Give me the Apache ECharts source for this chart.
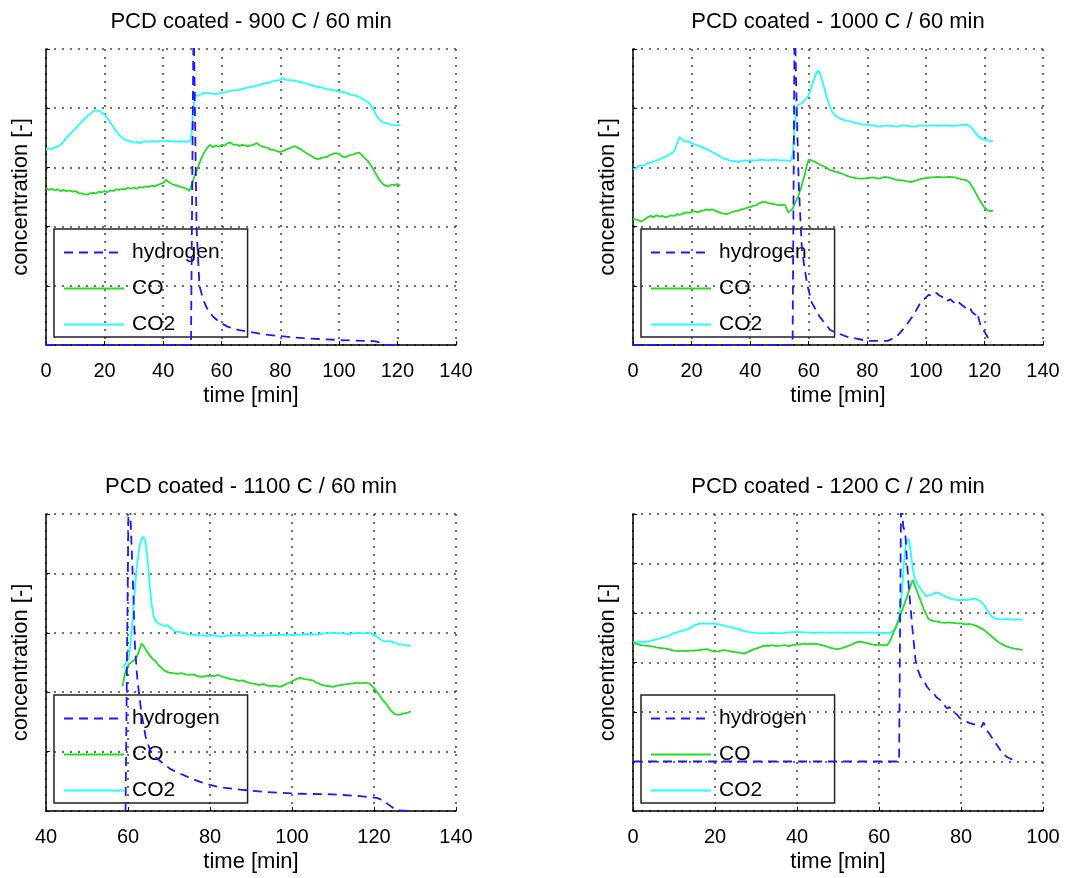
<!DOCTYPE html>
<html>
<head>
<meta charset="utf-8">
<script src="https://cdn.jsdelivr.net/npm/echarts@6/dist/echarts.min.js"></script>
<style>
html,body{margin:0;padding:0;background:#fff;}
#chart{width:1066px;height:878px;}
</style>
</head>
<body>
<div id="chart"></div>
<script>
// ---- titles / labels ----
const titles = ['PCD coated - 900 C / 60 min', 'PCD coated - 1000 C / 60 min', 'PCD coated - 1100 C / 60 min', 'PCD coated - 1200 C / 20 min'];
const seriesNames = ['hydrogen', 'CO', 'CO2'];
const xLabel = 'time [min]';
const yLabel = 'concentration [-]';
// axis ranges [xmin, xmax, xstep]
const xRanges = [[0, 140, 20], [0, 140, 20], [40, 140, 20], [0, 100, 20]];
const yMax = [5, 5, 5, 6];

// ---- 900 C ----
const h2_900 = [[0,0],[49.5,0],[50.4,5.6],[51.4,2.0],[52.4,1.0],[53.7,0.76],[55,0.62],[56,0.54],[57.5,0.46],[59.4,0.38],[62,0.31],[66,0.25],[72,0.20],[76,0.17],[82,0.14],[88,0.115],[94,0.10],[100,0.085],[105,0.075],[109.5,0.07],[112,0.065],[113.5,0.05],[115,0.02],[116,0],[120,0]];
const co_900 = [[0,2.65],[1,2.62],[2,2.64],[3,2.61],[4,2.63],[5,2.60],[6,2.62],[7,2.60],[8,2.61],[9,2.59],[10,2.60],[11,2.57],[12,2.56],[13,2.55],[14,2.54],[15,2.56],[16,2.57],[17,2.56],[18,2.59],[19,2.58],[20,2.60],[21,2.58],[22,2.61],[23,2.60],[24,2.63],[25,2.62],[26,2.64],[27,2.63],[28,2.66],[29,2.64],[30,2.66],[31,2.64],[32,2.67],[33,2.66],[34,2.68],[35,2.67],[36,2.69],[37,2.68],[38,2.70],[39,2.72],[40,2.74],[41,2.79],[42,2.75],[43,2.72],[44,2.70],[45,2.69],[46,2.67],[47,2.66],[48,2.64],[49,2.60],[49.7,2.70],[50.5,2.82],[51.3,2.93],[52,3.02],[53,3.15],[54,3.25],[55,3.33],[56,3.38],[57,3.34],[58,3.37],[59,3.35],[60,3.38],[61,3.37],[62,3.41],[63,3.42],[64,3.38],[65,3.39],[66,3.36],[67,3.38],[68,3.37],[69,3.36],[70,3.37],[71,3.39],[72,3.41],[73,3.37],[74,3.35],[75,3.34],[76,3.32],[77,3.30],[78,3.29],[79,3.27],[80,3.26],[81,3.28],[82,3.30],[83,3.32],[84,3.34],[85,3.36],[86,3.33],[87,3.31],[88,3.27],[89,3.24],[90,3.21],[91,3.18],[92,3.15],[93,3.14],[94,3.16],[95,3.17],[96,3.18],[97,3.21],[98,3.23],[99,3.24],[100,3.23],[101,3.19],[102,3.17],[103,3.19],[104,3.21],[105,3.22],[106,3.24],[107,3.25],[108,3.20],[109,3.15],[110,3.10],[111,3.03],[112,2.95],[113,2.86],[114,2.78],[115,2.72],[116,2.69],[117,2.68],[118,2.71],[119,2.70],[120,2.72],[121,2.69]];
const co2_900 = [[0,3.30],[1,3.32],[2,3.31],[3,3.34],[4,3.35],[5,3.38],[6,3.44],[7,3.50],[8,3.55],[9,3.60],[10,3.65],[11,3.71],[12,3.76],[13,3.81],[14,3.86],[15,3.90],[16,3.94],[17,3.97],[18,3.95],[19,3.93],[20,3.89],[21,3.83],[22,3.76],[23,3.68],[24,3.61],[25,3.55],[26,3.50],[27,3.47],[28,3.45],[29,3.44],[30,3.42],[31,3.43],[32,3.41],[33,3.43],[34,3.44],[35,3.43],[36,3.45],[37,3.44],[38,3.43],[39,3.45],[40,3.44],[42,3.45],[44,3.43],[46,3.44],[48,3.43],[49.2,3.44],[49.7,3.55],[50.2,3.95],[50.9,4.22],[52,4.21],[54,4.26],[56,4.25],[58,4.24],[60,4.26],[62,4.28],[64,4.30],[66,4.31],[68,4.34],[70,4.36],[72,4.38],[74,4.41],[76,4.43],[78,4.46],[80,4.48],[81,4.51],[82,4.48],[84,4.47],[86,4.45],[88,4.43],[90,4.40],[92,4.37],[94,4.35],[96,4.32],[98,4.31],[100,4.28],[102,4.27],[104,4.23],[106,4.21],[108,4.16],[110,4.10],[111,4.05],[112,3.96],[113,3.86],[114,3.80],[115,3.76],[116,3.75],[118,3.72],[120,3.71],[121,3.72]];

// ---- 1000 C ----
const h2_1000 = [[0,0],[54.5,0],[55.2,5.6],[56,3.8],[56.6,2.7],[57.7,1.6],[59.4,1.04],[61,0.72],[63.7,0.48],[67.4,0.25],[73,0.14],[80,0.07],[87,0.07],[90,0.14],[93,0.31],[95.8,0.51],[98,0.70],[101,0.85],[102,0.82],[103.6,0.88],[104.5,0.84],[106,0.80],[107,0.74],[108.4,0.77],[109.5,0.72],[110.6,0.76],[111.7,0.70],[112.9,0.65],[114,0.62],[115,0.64],[115.7,0.56],[116.9,0.51],[117.5,0.55],[118.6,0.34],[120.3,0.20],[121.4,0.11]];
const co_1000 = [[0,2.14],[1,2.12],[2,2.10],[3,2.09],[4,2.12],[5,2.16],[6,2.18],[7,2.16],[8,2.19],[9,2.17],[10,2.18],[11,2.16],[12,2.17],[13,2.19],[14,2.18],[15,2.21],[16,2.20],[17,2.22],[18,2.24],[19,2.23],[20,2.25],[21,2.26],[22,2.24],[23,2.26],[24,2.27],[25,2.29],[26,2.28],[27,2.29],[28,2.27],[29,2.25],[30,2.23],[31,2.22],[32,2.21],[33,2.23],[34,2.25],[35,2.26],[36,2.27],[37,2.29],[38,2.30],[39,2.32],[40,2.33],[41,2.35],[42,2.36],[43,2.39],[44,2.41],[45,2.42],[46,2.40],[47,2.39],[48,2.38],[49,2.37],[50,2.36],[51,2.37],[52,2.36],[53,2.24],[53.5,2.21],[54.5,2.30],[55.5,2.42],[56.5,2.52],[57.5,2.68],[58.5,2.85],[59.3,3.02],[60,3.13],[61,3.12],[62,3.10],[63,3.07],[64,3.04],[65,3.02],[66,3.00],[67,2.96],[68,2.95],[69,2.93],[70,2.92],[71,2.90],[72,2.88],[73,2.86],[74,2.84],[75,2.83],[76,2.82],[78,2.81],[80,2.82],[82,2.83],[84,2.81],[86,2.84],[88,2.82],[90,2.79],[92,2.78],[94,2.76],[95,2.75],[96,2.77],[98,2.80],[100,2.82],[102,2.83],[104,2.84],[106,2.83],[108,2.84],[110,2.83],[112,2.80],[114,2.78],[115,2.74],[116,2.66],[117,2.57],[118,2.48],[119,2.40],[120,2.32],[121,2.28],[122,2.26],[123,2.27]];
const co2_1000 = [[0,2.96],[1,2.99],[2,3.02],[3,3.03],[4,3.04],[5,3.07],[6,3.08],[7,3.10],[8,3.12],[9,3.13],[10,3.16],[11,3.18],[12,3.20],[13,3.23],[14,3.27],[15,3.40],[16,3.51],[17,3.46],[18,3.43],[19,3.44],[20,3.41],[21,3.39],[22,3.37],[23,3.36],[24,3.33],[25,3.31],[26,3.29],[27,3.26],[28,3.24],[29,3.20],[30,3.18],[31,3.15],[32,3.14],[33,3.12],[34,3.11],[35,3.10],[36,3.09],[37,3.11],[38,3.12],[39,3.11],[40,3.12],[42,3.12],[44,3.13],[46,3.12],[48,3.13],[50,3.12],[52,3.12],[54,3.11],[54.6,3.25],[55.2,3.70],[55.8,4.02],[56.5,4.06],[57.5,4.08],[58.5,4.12],[59.5,4.18],[60.5,4.28],[61.5,4.45],[62.5,4.58],[63.2,4.64],[64,4.57],[65,4.40],[66,4.22],[67,4.06],[68,3.94],[69,3.88],[70,3.84],[71,3.82],[72,3.80],[73,3.79],[74,3.78],[75,3.76],[76,3.75],[78,3.73],[80,3.72],[82,3.71],[84,3.69],[86,3.71],[88,3.70],[90,3.69],[92,3.71],[94,3.70],[96,3.69],[98,3.71],[100,3.70],[102,3.71],[104,3.70],[106,3.71],[108,3.70],[110,3.70],[112,3.72],[114,3.72],[115,3.70],[116,3.64],[117,3.58],[118,3.52],[119,3.49],[120,3.47],[121,3.46],[122,3.44],[123,3.45]];

// ---- 1100 C ----
const h2_1100 = [[59.4,0],[60.1,5.0],[60.3,5.6],[60.7,4.79],[61.3,3.67],[61.7,2.77],[62.3,2.2],[63.3,1.64],[64.3,1.25],[65.4,1.02],[66.8,0.90],[68.6,0.80],[70.5,0.70],[72.7,0.63],[75,0.56],[77.6,0.49],[80,0.44],[82.4,0.40],[87.3,0.36],[93.8,0.32],[102,0.29],[110,0.28],[116.6,0.25],[120.7,0.22],[122.3,0.18],[123.3,0.12],[124.3,0.07],[125.5,0.01],[129,0]];
const co_1100 = [[58.7,2.10],[59.2,2.30],[59.7,2.42],[60.3,2.48],[61,2.51],[61.7,2.55],[62.3,2.62],[62.8,2.72],[63.3,2.82],[63.8,2.78],[64.5,2.70],[65.3,2.62],[66,2.56],[66.7,2.52],[67.5,2.45],[68.3,2.40],[69,2.36],[70,2.33],[71,2.32],[72,2.31],[73,2.32],[74,2.30],[75,2.29],[76,2.30],[77,2.27],[78,2.26],[79,2.27],[80,2.28],[81,2.27],[82,2.29],[83,2.26],[84,2.24],[85,2.22],[86,2.21],[87,2.19],[88,2.20],[89,2.17],[90,2.15],[91,2.14],[92,2.12],[93,2.14],[94,2.11],[95,2.10],[96,2.11],[97,2.09],[98,2.12],[99,2.15],[100,2.18],[101,2.22],[102,2.24],[103,2.22],[104,2.21],[105,2.20],[106,2.16],[107,2.13],[108,2.11],[109,2.10],[110,2.09],[111,2.11],[112,2.12],[113,2.13],[114,2.14],[115,2.15],[116,2.16],[117,2.15],[118,2.16],[119,2.14],[120,2.07],[121,1.98],[122,1.88],[123,1.80],[124,1.70],[125,1.63],[126,1.62],[127,1.64],[128,1.65],[129,1.68]];
const co2_1100 = [[58.7,2.40],[59.3,2.47],[59.8,2.52],[60.3,2.62],[60.8,2.95],[61.3,3.40],[61.8,3.85],[62.3,4.20],[62.8,4.45],[63.3,4.58],[63.7,4.62],[64.2,4.55],[64.6,4.35],[65,4.06],[65.4,3.72],[65.8,3.45],[66.3,3.27],[67,3.18],[68,3.14],[69,3.11],[69.7,3.13],[70.5,3.07],[71.5,3.02],[73,3.01],[75,2.97],[77,2.96],[79,2.95],[81,2.96],[82.5,2.93],[84,2.95],[86,2.96],[88,2.95],[90,2.96],[92,2.95],[94,2.96],[96,2.96],[98,2.97],[100,2.96],[102,2.97],[104,2.98],[106,2.97],[108,2.99],[110,3.00],[112,2.99],[114,2.98],[116,3.00],[118,2.99],[119,3.00],[120,2.97],[121,2.92],[122,2.87],[123,2.85],[124,2.86],[125,2.83],[126,2.81],[127,2.80],[128,2.79],[129,2.78]];

// ---- 1200 C ----
const h2_1200 = [[0,1],[64.9,1],[65.4,6.5],[65.9,5.75],[66.4,5.62],[66.8,5.07],[67.2,4.60],[67.6,4.20],[68.3,3.55],[68.9,3.05],[69.5,2.85],[70.1,2.71],[71,2.62],[71.7,2.51],[72.5,2.43],[73.3,2.38],[74,2.30],[75,2.24],[75.8,2.15],[76.6,2.07],[77.2,2.10],[78.2,2.00],[79,1.95],[79.8,1.87],[81,1.82],[82.3,1.77],[83.3,1.75],[84.3,1.73],[85,1.70],[85.5,1.79],[86.3,1.63],[87,1.55],[88,1.43],[88.8,1.33],[89.6,1.23],[90.4,1.15],[91.2,1.09],[92.2,1.05],[93.3,1.03]];
const co_1200 = [[0,3.40],[1,3.37],[2,3.35],[3,3.34],[4,3.33],[5,3.32],[6,3.30],[7,3.29],[8,3.28],[9,3.26],[10,3.24],[11,3.23],[12,3.24],[13,3.23],[14,3.24],[15,3.24],[16,3.25],[17,3.26],[18,3.27],[19,3.24],[20,3.22],[21,3.23],[22,3.25],[23,3.24],[24,3.22],[25,3.21],[26,3.20],[27,3.18],[28,3.21],[29,3.25],[30,3.28],[31,3.31],[32,3.34],[33,3.33],[34,3.35],[35,3.33],[36,3.34],[37,3.35],[38,3.33],[39,3.35],[40,3.36],[41,3.37],[42,3.38],[43,3.37],[44,3.38],[45,3.37],[46,3.35],[47,3.33],[48,3.30],[49,3.28],[50,3.27],[51,3.29],[52,3.32],[53,3.35],[54,3.39],[55,3.42],[56,3.41],[57,3.39],[58,3.37],[59,3.35],[60,3.36],[61,3.35],[62,3.35],[62.8,3.45],[63.6,3.62],[64.5,3.80],[65.5,4.02],[66.5,4.25],[67.5,4.50],[68.2,4.66],[69,4.50],[70,4.28],[71,4.06],[72,3.89],[73,3.84],[74,3.83],[75,3.81],[76,3.80],[77,3.81],[78,3.80],[79,3.79],[80,3.79],[81,3.77],[82,3.78],[83,3.76],[84,3.73],[85,3.69],[86,3.63],[87,3.56],[88,3.49],[89,3.42],[90,3.37],[91,3.33],[92,3.30],[93,3.28],[94,3.27],[95,3.25]];
const co2_1200 = [[0,3.40],[1,3.41],[2,3.42],[3,3.41],[4,3.43],[5,3.45],[6,3.47],[7,3.50],[8,3.52],[9,3.55],[10,3.59],[11,3.62],[12,3.64],[13,3.66],[14,3.70],[15,3.75],[16,3.78],[17,3.79],[18,3.78],[19,3.79],[20,3.78],[21,3.77],[22,3.75],[23,3.73],[24,3.71],[25,3.69],[26,3.67],[27,3.64],[28,3.62],[29,3.61],[30,3.60],[32,3.59],[34,3.60],[36,3.59],[38,3.61],[40,3.62],[42,3.61],[44,3.60],[46,3.61],[48,3.60],[50,3.61],[52,3.60],[54,3.61],[56,3.60],[58,3.61],[60,3.60],[62,3.60],[63,3.61],[64,3.68],[64.8,3.85],[65.5,4.30],[66,4.95],[66.5,5.35],[67,5.50],[67.4,5.45],[67.8,5.20],[68.3,4.85],[68.8,4.68],[69.5,4.57],[70.5,4.45],[71.5,4.34],[72.5,4.36],[73.5,4.40],[74.5,4.41],[75.5,4.36],[76.5,4.32],[77.5,4.29],[78.5,4.27],[79.5,4.26],[80.5,4.27],[81.5,4.26],[82.5,4.28],[83.5,4.29],[84.5,4.25],[85.5,4.18],[86.5,4.04],[87.5,3.93],[88.5,3.88],[90,3.87],[91,3.88],[92,3.87],[93,3.86],[94,3.87],[95,3.86]];

const panelData = [[h2_900, co_900, co2_900], [h2_1000, co_1000, co2_1000], [h2_1100, co_1100, co2_1100], [h2_1200, co_1200, co2_1200]];

// ---- layout ----
const FONT = '"Liberation Sans", Arial, Helvetica, sans-serif';
const grids = [
  {left: 46, top: 49, width: 410, height: 296},
  {left: 633, top: 49, width: 410, height: 296},
  {left: 46, top: 514, width: 410, height: 297},
  {left: 633, top: 514, width: 410, height: 297}
];
const colors = ['#1a1aff', '#22dd22', '#22ffff'];

const option = {
  animation: false,
  backgroundColor: '#fff',
  title: [], grid: [], xAxis: [], yAxis: [], legend: [], series: []
};

const gridLine = {show: true, lineStyle: {color: '#444', width: 1.5, type: [2, 6]}};

grids.forEach((g, i) => {
  option.grid.push({left: g.left, top: g.top, width: g.width, height: g.height, containLabel: false});
  option.title.push({
    text: titles[i], left: g.left + g.width / 2, top: g.top - 38, textAlign: 'center', padding: 0,
    textStyle: {fontFamily: FONT, fontSize: 22, fontWeight: 'normal', color: '#000'}
  });
  const xr = xRanges[i];
  option.xAxis.push({
    type: 'value', gridIndex: i, min: xr[0], max: xr[1], interval: xr[2],
    name: xLabel, nameLocation: 'middle', nameGap: 40,
    nameTextStyle: {fontFamily: FONT, fontSize: 22, color: '#000'},
    axisLine: {show: true, onZero: false, lineStyle: {color: '#000', width: 1.5}},
    axisTick: {show: true, inside: true, length: 4, lineStyle: {color: '#000'}},
    axisLabel: {fontFamily: FONT, fontSize: 20, color: '#000', margin: 16},
    splitLine: gridLine
  });
  option.yAxis.push({
    type: 'value', gridIndex: i, min: 0, max: yMax[i], interval: 1,
    name: yLabel, nameLocation: 'middle', nameGap: 14, nameRotate: 90,
    nameTextStyle: {fontFamily: FONT, fontSize: 22, color: '#000'},
    axisLine: {show: true, onZero: false, lineStyle: {color: '#000', width: 1.5}},
    axisTick: {show: true, inside: true, length: 4, lineStyle: {color: '#000'}},
    axisLabel: {show: false},
    splitLine: gridLine
  });
  option.legend.push({
    orient: 'vertical', left: g.left + 8, top: g.top + g.height - 116,
    data: seriesNames.slice(),
    itemWidth: 60, itemHeight: 14, itemGap: 15,
    padding: [13, 28, 2, 9],
    borderColor: '#222', borderWidth: 1.5, backgroundColor: 'transparent',
    selectedMode: false,
    itemStyle: {color: 'transparent', borderWidth: 0, borderColor: 'transparent'},
    textStyle: {fontFamily: FONT, fontSize: 21, color: '#000', lineHeight: 21, padding: [0, 0, 0, 3]}
  });
  seriesNames.forEach((name, k) => {
    option.series.push({
      type: 'line', name: name, xAxisIndex: i, yAxisIndex: i,
      data: panelData[i][k], symbol: 'none', showSymbol: false, clip: true,
      lineStyle: {color: colors[k], width: 1.8, type: k === 0 ? [9, 6] : 'solid'},
      itemStyle: {color: colors[k]},
      z: 5 - k
    });
  });
});

const chart = echarts.init(document.getElementById('chart'), null, {renderer: 'canvas'});
chart.setOption(option);
</script>
</body>
</html>
